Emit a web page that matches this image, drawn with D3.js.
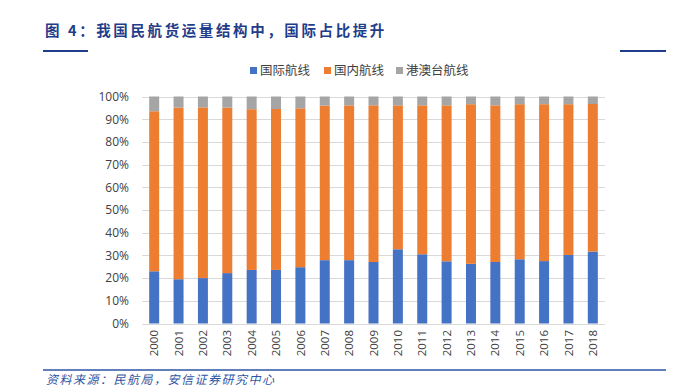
<!DOCTYPE html>
<html lang="zh">
<head>
  <meta charset="UTF-8">
  <title>我国民航货运量结构</title>
  <script src="https://d3js.org/d3.v7.min.js"></script>
  <style>
    body { margin: 0; background: #fff; }
    .grid-line { stroke: #d9d9d9; stroke-width: 1; }
    .tick-label { font: 12px "Open Sans", "Noto Sans", sans-serif; fill: #404040; }
  </style>
</head>
<body>
<script>
  // Data (percent share of freight volume)
  const years = ['2000', '2001', '2002', '2003', '2004', '2005', '2006', '2007', '2008', '2009',
                 '2010', '2011', '2012', '2013', '2014', '2015', '2016', '2017', '2018'];
  const international = [23.0, 19.5, 20.0, 22.2, 23.6, 23.6, 24.8, 27.9, 27.9, 27.1,
                         32.7, 30.5, 27.4, 26.3, 27.1, 28.3, 27.5, 30.2, 31.7];
  const domestic = [70.5, 75.6, 75.2, 72.9, 70.8, 70.9, 70.0, 68.1, 68.2, 69.0,
                    63.4, 65.6, 68.7, 70.3, 69.0, 68.3, 69.1, 66.4, 65.0];
  const hkMacauTaiwan = [6.5, 4.9, 4.8, 4.9, 5.6, 5.5, 5.2, 4.0, 3.9, 3.9,
                         3.9, 3.9, 3.9, 3.4, 3.9, 3.4, 3.4, 3.4, 3.3];
  const seriesNames = ['国际航线', '国内航线', '港澳台航线'];
  const colors = ['#4472c4', '#ed7d31', '#a5a5a5'];
  const yTicks = [0, 10, 20, 30, 40, 50, 60, 70, 80, 90, 100];

  const width = 674, height = 387;
  const plot = {left: 142, right: 605, top: 96.5, bottom: 323.5};

  const svg = d3.select('body').append('svg')
    .attr('width', width)
    .attr('height', height);

  // Title and decorative lines
  svg.append('text')
    .attr('x', 45)
    .attr('y', 36)
    .style('font', 'bold 14.5px "Noto Sans CJK SC", sans-serif')
    .style('letter-spacing', '2.6px')
    .attr('fill', '#1f3d8a')
    .text('图 4：我国民航货运量结构中，国际占比提升');

  svg.append('line').attr('x1', 43).attr('x2', 88).attr('y1', 51).attr('y2', 51)
    .attr('stroke', '#1f3d8a').attr('stroke-width', 2);
  svg.append('line').attr('x1', 620).attr('x2', 666).attr('y1', 51).attr('y2', 51)
    .attr('stroke', '#1f3d8a').attr('stroke-width', 2);
  svg.append('line').attr('x1', 43).attr('x2', 666).attr('y1', 370).attr('y2', 370)
    .attr('stroke', '#2f55a4').attr('stroke-width', 1.5);

  svg.append('text')
    .attr('x', 46)
    .attr('y', 384)
    .style('font', 'italic 12px "Noto Sans CJK SC", sans-serif')
    .style('letter-spacing', '1.5px')
    .attr('fill', '#2f55a4')
    .text('资料来源：民航局，安信证券研究中心');

  // Scales
  const x = d3.scaleBand()
    .domain(years)
    .range([plot.left, plot.right])
    .paddingInner(0.59)
    .paddingOuter(0.295);

  const y = d3.scaleLinear()
    .domain([0, 100])
    .range([plot.bottom, plot.top]);

  // Gridlines
  svg.selectAll('.grid-line')
    .data(yTicks)
    .join('line')
    .attr('class', 'grid-line')
    .attr('x1', plot.left)
    .attr('x2', plot.right)
    .attr('y1', d => Math.round(y(d)) + 0.5)
    .attr('y2', d => Math.round(y(d)) + 0.5);

  // Y tick labels
  svg.selectAll('.ylab')
    .data(yTicks)
    .join('text')
    .attr('class', 'tick-label')
    .attr('x', 129)
    .attr('y', d => y(d))
    .attr('dy', '0.36em')
    .attr('text-anchor', 'end')
    .text(d => d + '%');

  // Stacked bars
  const table = years.map((yr, i) => ({
    year: yr,
    s0: international[i],
    s1: domestic[i],
    s2: hkMacauTaiwan[i]
  }));
  const stacked = d3.stack().keys(['s0', 's1', 's2'])(table);

  svg.selectAll('.layer')
    .data(stacked)
    .join('g')
    .attr('class', 'layer')
    .attr('fill', (d, i) => colors[i])
    .selectAll('rect')
    .data(d => d)
    .join('rect')
    .attr('x', d => x(d.data.year))
    .attr('width', x.bandwidth())
    .attr('y', d => y(d[1]))
    .attr('height', d => y(d[0]) - y(d[1]));

  // X tick labels (rotated)
  svg.selectAll('.xlab')
    .data(years)
    .join('text')
    .attr('class', 'tick-label')
    .style('font-size', '11.5px')
    .attr('text-anchor', 'end')
    .attr('transform', d => `translate(${x(d) + x.bandwidth() / 2},${330}) rotate(-90)`)
    .attr('dy', '0.36em')
    .text(d => d);

  // Legend
  const legendX = [250, 324, 396];
  const legend = svg.selectAll('.legend')
    .data(seriesNames)
    .join('g')
    .attr('class', 'legend')
    .attr('transform', (d, i) => `translate(${legendX[i]},70.5)`);

  legend.append('rect')
    .attr('x', 0)
    .attr('y', -3.5)
    .attr('width', 7)
    .attr('height', 7)
    .attr('fill', (d, i) => colors[i]);

  legend.append('text')
    .attr('x', 10)
    .attr('dy', '0.36em')
    .style('font', '12.5px "Noto Sans CJK SC", sans-serif')
    .attr('fill', '#404040')
    .text(d => d);
</script>
</body>
</html>
